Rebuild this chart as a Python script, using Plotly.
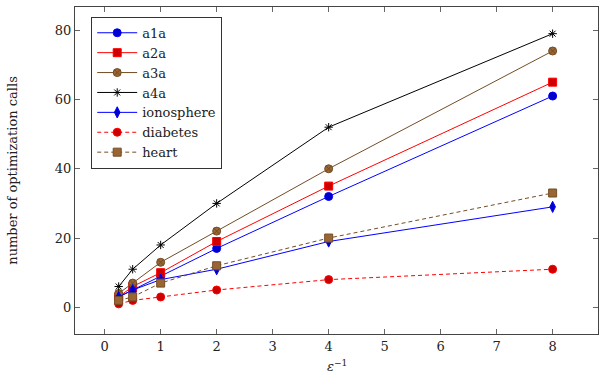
import plotly.graph_objects as go

x_vals = [0.25, 0.5, 1, 2, 4, 8]
a1a = [3, 5, 9, 17, 32, 61]
a2a = [3, 6, 10, 19, 35, 65]
a3a = [4, 7, 13, 22, 40, 74]
a4a = [6, 11, 18, 30, 52, 79]
ionosphere = [3, 5, 8, 11, 19, 29]
diabetes = [1, 2, 3, 5, 8, 11]
heart = [2, 3, 7, 12, 20, 33]

x_ticks = [0, 1, 2, 3, 4, 5, 6, 7, 8]
y_ticks = [0, 20, 40, 60, 80]

BLUE, BLUE_F = "#0000ff", "#0000cc"
RED, RED_F = "#ff0000", "#cc0000"
BROWN, BROWN_F = "#734d26", "#996633"

series = [
    ("a1a", a1a, BLUE, BLUE_F, "circle", 8, "solid"),
    ("a2a", a2a, RED, RED_F, "square", 8, "solid"),
    ("a3a", a3a, BROWN, BROWN_F, "circle-x", 8, "solid"),
    ("a4a", a4a, "#000000", "#000000", "asterisk-open", 7, "solid"),
    ("ionosphere", ionosphere, BLUE, BLUE_F, "diamond-tall", 8, "solid"),
    ("diabetes", diabetes, RED, RED_F, "circle", 8, "4px,3px"),
    ("heart", heart, BROWN, BROWN_F, "square", 8, "4px,3px"),
]

fig = go.Figure()
for name, ys, lc, fc, sym, sz, dash in series:
    fig.add_trace(go.Scatter(
        x=x_vals, y=ys, name=name, mode="lines+markers",
        line=dict(color=lc, width=1, dash=dash),
        marker=dict(symbol=sym, size=sz, color=fc,
                    line=dict(color=lc, width=1)),
    ))

SERIF = "DejaVu Serif"
font = dict(family=SERIF, size=13, color="#222")

axis_common = dict(
    showgrid=False, zeroline=False, showline=True, linecolor="#444", linewidth=1,
    mirror="ticks", ticks="inside", ticklen=5, tickcolor="#666", tickwidth=1,
    automargin=False, tickfont=dict(family=SERIF, size=13, color="#222"),
)

fig.update_layout(
    template="none",
    width=599, height=376,
    margin=dict(l=75, r=1, t=7, b=42),
    paper_bgcolor="white", plot_bgcolor="white",
    font=font,
    xaxis=dict(range=[-0.53, 8.81], tickvals=x_ticks, **axis_common),
    yaxis=dict(range=[-7.7, 86.7], tickvals=y_ticks, **axis_common),
    legend=dict(x=0.031, y=0.97, xanchor="left", yanchor="top",
                bgcolor="white", bordercolor="#333", borderwidth=1,
                font=dict(family=SERIF, size=13, color="#222"),
                itemwidth=40, tracegroupgap=0),
    showlegend=True,
    annotations=[
        dict(text="<i>ε</i><sup>−1</sup>", xref="paper", yref="paper",
             x=0.5, y=-0.068, xanchor="center", yanchor="top", showarrow=False,
             font=dict(family=SERIF, size=13, color="#222")),
        dict(text="number of optimization calls", xref="paper", yref="paper",
             x=-0.12, y=0.5, xanchor="center", yanchor="middle", showarrow=False,
             textangle=-90, font=dict(family=SERIF, size=13, color="#222")),
    ],
)

fig.write_html("out.html", config={"displayModeBar": False},
               post_script="document.body.style.margin='0';document.body.style.padding='0';")
